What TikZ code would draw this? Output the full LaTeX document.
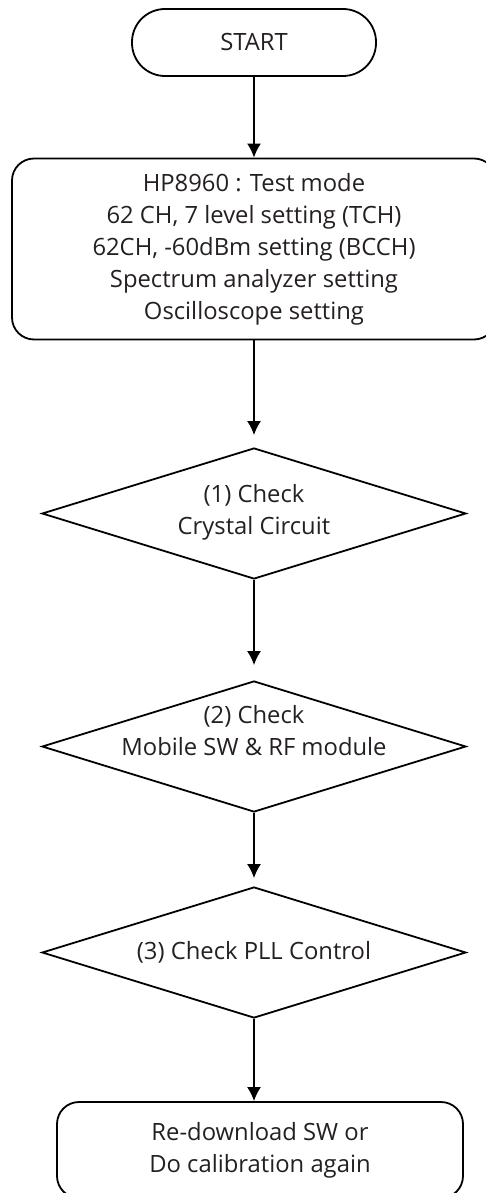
\documentclass[tikz,border=0pt]{standalone}
\usepackage{fontspec}
\setmainfont{Open Sans}
\usetikzlibrary{shapes.geometric,arrows.meta}
\definecolor{TextClr}{rgb}{0.14,0.12,0.13}

\begin{document}
\begin{tikzpicture}[x=1pt,y=-1pt,line width=1.8pt,
  font=\fontsize{23.8}{32}\selectfont,
  term/.style={draw,rounded corners=33pt,minimum width=244pt,minimum height=67pt,text=TextClr},
  procbox/.style={draw,rounded corners=22pt,align=center,text=TextClr},
  decision/.style={draw,diamond,minimum width=424pt,minimum height=131pt,inner sep=0pt},
  flow/.style={-{Latex[length=14pt,width=14pt]}}]
\clip (0,0) rectangle (486,1193);

% terminal and setup box
\node[term] (start) at (254,42.5) {START};
\node[procbox,minimum width=484pt,minimum height=181pt] (setup) at (254,249)
  {HP8960 : Test mode\\62 CH, 7 level setting (TCH)\\62CH, -60dBm setting (BCCH)\\Spectrum analyzer setting\\Oscilloscope setting};

% the three checks
\node[decision,label={[align=center,text=TextClr,yshift=1pt]center:{(1) Check\\Crystal Circuit}}] (chkxtal) at (254,513.5) {};
\node[decision,label={[align=center,text=TextClr,yshift=16pt]center:{(2) Check\\Mobile SW \& RF module}}] (chkmod) at (254,746.5) {};
\node[decision,label={[text=TextClr]center:(3) Check PLL Control}] (chkpll) at (254,952.5) {};

\node[procbox,minimum width=406pt,minimum height=96pt] (redo) at (260,1150)
  {Re-download SW or\\Do calibration again};

% connectors
\draw[flow] (start) -- (setup);
\draw[flow,shorten >=12pt] (setup) -- (chkxtal);
\draw[flow,shorten >=15pt] (chkxtal) -- (chkmod);
\draw[flow,shorten >=8pt] (chkmod) -- (chkpll);
\draw[flow] (chkpll.south) -- (chkpll.south |- redo.north);
\end{tikzpicture}
\end{document}
